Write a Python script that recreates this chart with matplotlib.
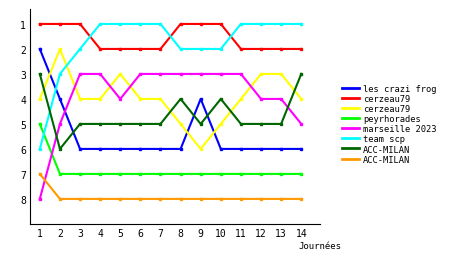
import matplotlib
matplotlib.use("Agg")
import matplotlib.pyplot as plt
from matplotlib.lines import Line2D

journees = list(range(1, 15))
teams = ["les crazi frog", "cerzeau79", "cerzeau79", "peyrhorades",
         "marseille 2023", "team scp", "ACC-MILAN", "ACC-MILAN"]
colors = ["#0000ff", "#ff0000", "#ffff00", "#00ff00",
          "#ff00ff", "#00ffff", "#006600", "#ff9900"]

crazi_frog = [2, 4, 6, 6, 6, 6, 6, 6, 4, 6, 6, 6, 6, 6]
cerzeau_a = [1, 1, 1, 2, 2, 2, 2, 1, 1, 1, 2, 2, 2, 2]
cerzeau_b = [4, 2, 4, 4, 3, 4, 4, 5, 6, 5, 4, 3, 3, 4]
peyrhorades = [5, 7, 7, 7, 7, 7, 7, 7, 7, 7, 7, 7, 7, 7]
marseille = [8, 5, 3, 3, 4, 3, 3, 3, 3, 3, 3, 4, 4, 5]
team_scp = [6, 3, 2, 1, 1, 1, 1, 2, 2, 2, 1, 1, 1, 1]
acc_milan_a = [3, 6, 5, 5, 5, 5, 5, 4, 5, 4, 5, 5, 5, 3]
acc_milan_b = [7, 8, 8, 8, 8, 8, 8, 8, 8, 8, 8, 8, 8, 8]
ranks = [crazi_frog, cerzeau_a, cerzeau_b, peyrhorades,
         marseille, team_scp, acc_milan_a, acc_milan_b]

plt.rcParams['font.family'] = ['DejaVu Sans Mono']
fig = plt.figure(figsize=(4.6, 2.55), dpi=100)
ax = fig.add_axes([0.066, 0.118, 0.63, 0.843])

for name, col, r in zip(teams, colors, ranks):
    ax.plot(journees, r, color=col, lw=1.5, marker='s', ms=2, label=name)

ax.set_xlim(0.53, 14.94)
ax.set_ylim(9, 0.4)
ax.set_xticks(journees)
ax.set_yticks(range(1, 9))
ax.tick_params(length=0, labelsize=7, pad=3)
ax.spines['top'].set_visible(False)
ax.spines['right'].set_visible(False)
ax.set_xlabel("Journées", fontsize=6.5)
ax.xaxis.set_label_coords(1.0, -0.08)

handles = [Line2D([], [], color=c, lw=2) for c in colors]
fig.legend(handles, teams, loc='upper left', bbox_to_anchor=(0.735, 0.685),
           frameon=False, fontsize=6.3, handlelength=1.9, handletextpad=0.45,
           labelspacing=0.13, borderpad=0)
fig.savefig("out.png", dpi=100)
